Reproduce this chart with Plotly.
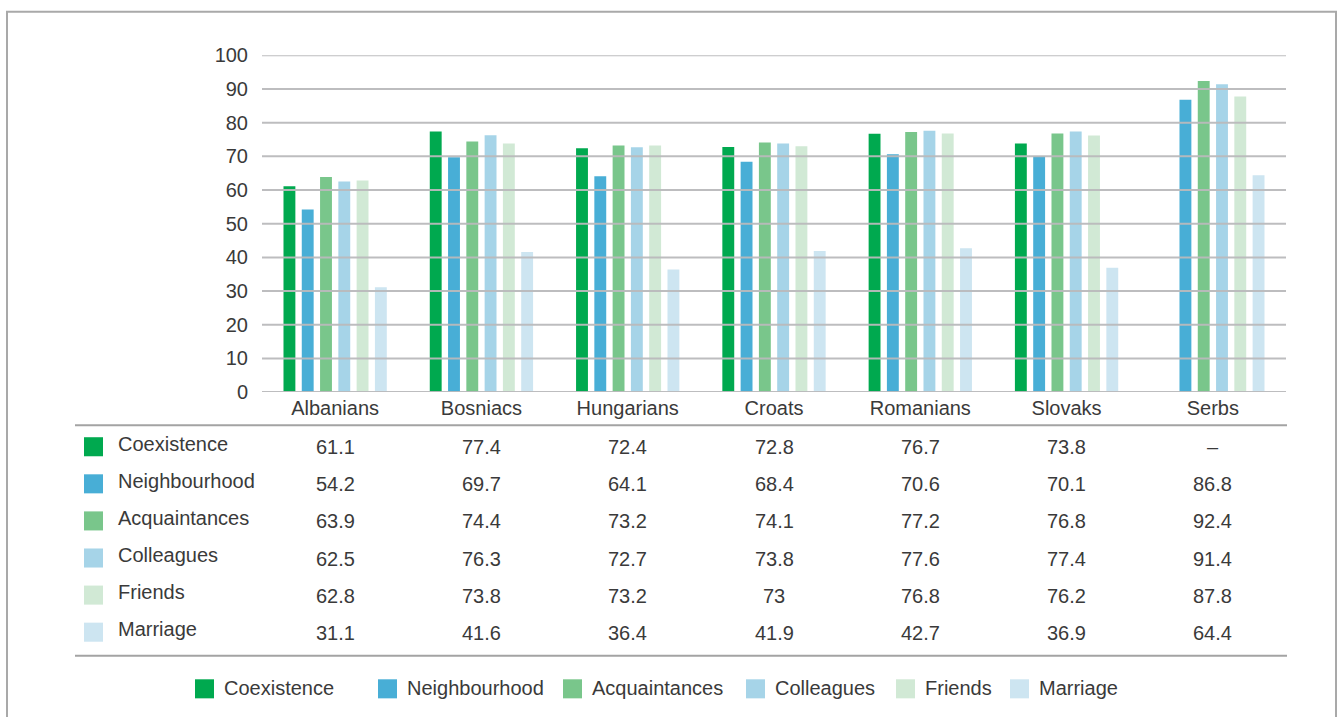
import plotly.graph_objects as go

categories = ["Albanians", "Bosniacs", "Hungarians", "Croats", "Romanians", "Slovaks", "Serbs"]
series_names = ["Coexistence", "Neighbourhood", "Acquaintances", "Colleagues", "Friends", "Marriage"]
coexistence = [61.1, 77.4, 72.4, 72.8, 76.7, 73.8, None]
neighbourhood = [54.2, 69.7, 64.1, 68.4, 70.6, 70.1, 86.8]
acquaintances = [63.9, 74.4, 73.2, 74.1, 77.2, 76.8, 92.4]
colleagues = [62.5, 76.3, 72.7, 73.8, 77.6, 77.4, 91.4]
friends = [62.8, 73.8, 73.2, 73.0, 76.8, 76.2, 87.8]
marriage = [31.1, 41.6, 36.4, 41.9, 42.7, 36.9, 64.4]
y_ticks = [0, 10, 20, 30, 40, 50, 60, 70, 80, 90, 100]

series_values = [coexistence, neighbourhood, acquaintances, colleagues, friends, marriage]
colors = ["#00A94F", "#48AED6", "#79C68B", "#A6D4E8", "#D1E9D5", "#CDE5F1"]

W, H = 1341, 717
FONT = "Liberation Sans, Arial, sans-serif"
FS = 20
TXT = "#3a3a3a"

VS, VO = 0.967, 11.8


def px(x):
    return x / W


def py(y):
    return 1 - ((y - VO) / VS) / H


fig = go.Figure()
for name, vals, col in zip(series_names, series_values, colors):
    fig.add_trace(go.Bar(
        x=categories, y=vals, name=name, marker=dict(color=col, line=dict(width=0)),
        showlegend=False, hoverinfo="x+y+name"))

shapes = []
# outer frame
shapes.append(dict(type="rect", xref="paper", yref="paper", x0=px(7), x1=px(1336), y0=py(760), y1=py(12.5),
                   line=dict(color="#a9a9a9", width=2), fillcolor="rgba(0,0,0,0)", layer="below"))
# gridlines drawn above bars
for t in y_ticks:
    shapes.append(dict(type="line", xref="paper", yref="y", x0=px(262), x1=px(1286), y0=t, y1=t,
                       line=dict(color="rgba(185,185,188,0.95)", width=2), layer="above"))
# table lines
for yy in (425, 655):
    shapes.append(dict(type="line", xref="paper", yref="paper", x0=px(75), x1=px(1287), y0=py(yy), y1=py(yy),
                       line=dict(color="#a3a3a3", width=2)))

annotations = []
row0, step = 446.5, 37.0
for i, (name, vals, col) in enumerate(zip(series_names, series_values, colors)):
    cy = row0 + i * step
    shapes.append(dict(type="rect", xref="paper", yref="paper", x0=px(84), x1=px(103),
                       y0=py(cy + 9.5), y1=py(cy - 9.5), fillcolor=col, line=dict(width=0)))
    annotations.append(dict(xref="paper", yref="paper", x=px(116), y=py(cy - 3), text=name, showarrow=False,
                            xanchor="left", yanchor="middle", font=dict(family=FONT, size=FS, color=TXT)))
    for c, v in zip(categories, vals):
        txt = "–" if v is None else (f"{v:g}")
        annotations.append(dict(xref="x", yref="paper", x=c, y=py(cy + 0.5), text=txt, showarrow=False,
                                xanchor="center", yanchor="middle", font=dict(family=FONT, size=FS, color=TXT)))

# bottom legend
leg_x = [195, 378, 563, 746, 896, 1010]
leg_cy = 688.0
for name, col, lx in zip(series_names, colors, leg_x):
    shapes.append(dict(type="rect", xref="paper", yref="paper", x0=px(lx), x1=px(lx + 19),
                       y0=py(leg_cy + 9.5), y1=py(leg_cy - 9.5), fillcolor=col, line=dict(width=0)))
    annotations.append(dict(xref="paper", yref="paper", x=px(lx + 27), y=py(leg_cy - 1), text=name, showarrow=False,
                            xanchor="left", yanchor="middle", font=dict(family=FONT, size=FS, color=TXT)))

fig.update_layout(
    autosize=True, margin=dict(l=0, r=0, t=0, b=0),
    paper_bgcolor="white", plot_bgcolor="white",
    barmode="group", bargap=0.25, bargroupgap=0.35,
    font=dict(family=FONT, size=FS, color=TXT),
    shapes=shapes, annotations=annotations, showlegend=False,
    xaxis=dict(domain=[px(262), px(1286)], showgrid=False, showline=False, zeroline=False,
               ticks="", ticklabelstandoff=2, tickfont=dict(family=FONT, size=FS, color=TXT), fixedrange=True),
    yaxis=dict(domain=[py(392), py(56)], range=[0, 100], tickvals=y_ticks, showgrid=False,
               showline=False, zeroline=False, ticks="", ticklabelstandoff=13,
               tickfont=dict(family=FONT, size=FS, color=TXT), fixedrange=True),
)

post = (
    "document.documentElement.style.height='100%';"
    "document.documentElement.style.overflow='hidden';"
    "document.body.style.height='100%';"
    "document.body.style.margin='0';"
    "document.body.style.overflow='hidden';"
    "var gd=document.getElementById('{plot_id}');"
    "if(gd&&gd.parentElement){gd.parentElement.style.height='100%';gd.parentElement.style.width='100%';}"
    "Plotly.Plots.resize(gd);"
)
fig.write_html("out.html", config={"displayModeBar": False, "responsive": True},
               default_width="100%", default_height="100%", post_script=post)
